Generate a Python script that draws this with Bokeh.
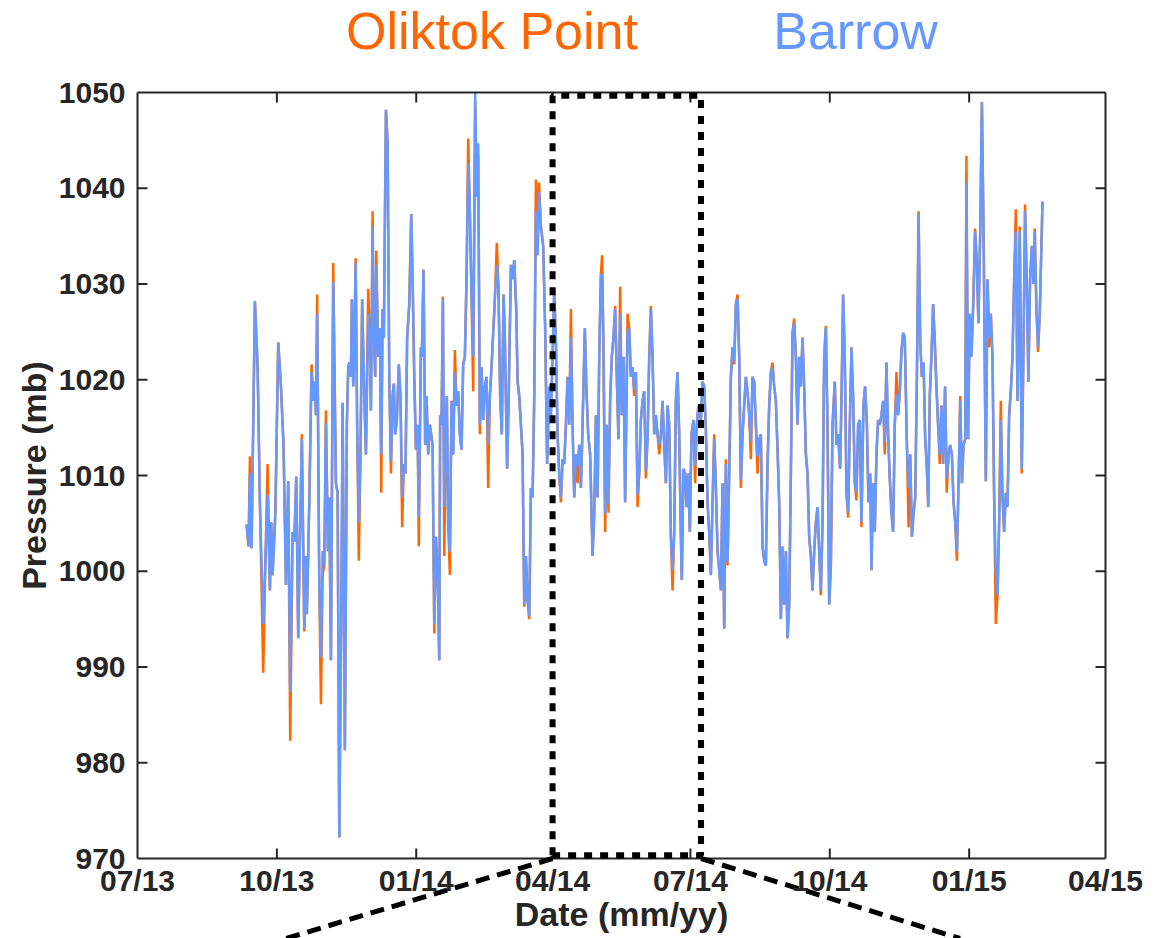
import math
import pandas as pd
from bokeh.plotting import figure
from bokeh.models import ColumnDataSource, Range1d
from bokeh.core.properties import value
from bokeh.embed import file_html
from bokeh.resources import INLINE

# Surface pressure at the two North Slope sites, days counted from 2013-07-01
START = pd.Timestamp("2013-07-01")

day = [
    72.0, 73.3, 74.2, 75.3, 77.5, 79.3, 80.8, 83.0, 84.3, 85.9, 87.4, 88.3, 89.2, 91.0, 92.9,
    94.7, 96.4, 98.0, 99.5, 100.8, 102.4, 103.5, 104.8, 106.1, 107.4, 108.5, 110.1, 111.2, 111.8,
    113.4, 114.9, 116.0, 117.1, 117.8, 118.6, 120.0, 121.1, 122.2, 123.3, 124.4, 125.7, 126.6,
    127.7, 129.2, 131.0, 132.1, 133.2, 134.7, 135.4, 136.9, 138.2, 139.1, 139.8, 140.9, 141.5,
    142.4, 143.1, 144.0, 145.0, 146.1, 147.2, 148.3, 149.7, 150.8, 152.3, 153.4, 154.1, 155.2,
    155.8, 156.9, 157.6, 158.9, 160.0, 160.9, 161.8, 162.6, 164.0, 165.1, 166.2, 167.3, 168.4,
    169.2, 170.1, 171.2, 172.5, 173.6, 174.7, 175.8, 176.9, 178.0, 179.4, 180.7, 181.6, 182.7,
    183.8, 184.9, 185.7, 187.1, 187.7, 188.8, 189.9, 190.8, 191.9, 193.0,
    194.8, 195.9, 197.0, 198.1, 199.2, 199.8, 200.7, 201.6, 202.5, 203.6, 204.2, 205.1, 206.2,
    207.3, 208.4, 209.5, 210.6, 211.7, 212.8, 213.9, 215.0, 216.1, 217.2, 218.3, 219.2, 220.3,
    221.6, 222.9, 224.0, 224.9, 226.0, 227.1, 228.2, 229.3, 230.4, 231.5, 232.6, 233.7, 234.8,
    235.9, 237.2, 238.3, 239.4, 240.5, 241.6, 242.5, 244.0, 245.1, 246.5, 247.6, 248.7, 250.0,
    250.9, 252.0, 253.1, 254.2, 255.3, 256.4, 257.5, 258.6, 259.7, 260.8, 261.9, 263.0, 264.1,
    265.0, 266.3, 267.8, 269.1, 270.4, 271.8, 272.9, 274.0, 275.1, 276.2, 277.3, 278.4, 279.5,
    280.6, 281.7, 282.8, 283.9, 285.0, 286.1, 287.2, 288.3, 289.4, 290.5, 291.6, 292.7, 293.8,
    295.3, 296.4, 297.5, 298.8, 300.4, 301.5, 302.6, 303.7, 304.8, 305.9, 306.7, 307.6, 308.7,
    309.8, 310.9, 312.0, 313.1, 314.2, 315.3, 316.4, 317.5, 318.6, 319.7, 320.8, 321.9,
    323.5, 324.6, 325.7, 326.8, 327.9, 329.0, 330.1, 331.2, 332.3, 333.4, 334.5, 335.6, 336.7,
    337.8, 338.9, 340.0, 341.1, 342.2, 343.3, 344.4, 345.5, 346.6, 347.7, 348.8, 349.9, 351.0,
    352.1, 353.2, 354.3, 355.4, 356.5, 357.6, 358.7, 359.3, 360.4, 361.5, 362.4, 363.5, 364.6,
    365.7, 367.0, 368.1, 369.2, 370.3, 371.9, 373.0, 374.1, 375.2, 376.3, 377.4, 378.5, 379.6,
    380.7, 381.8, 382.9, 384.0, 385.1, 386.2, 387.3, 388.4, 389.5, 390.6, 391.7, 392.8, 393.9,
    395.0, 396.1, 397.2, 398.3, 399.4, 400.5, 401.6, 402.7, 403.8, 404.9, 406.0, 407.1, 408.2,
    409.3, 410.4, 411.5, 412.6, 413.7, 414.8, 415.9, 417.0, 418.1, 419.2, 420.3, 421.4, 422.5,
    423.6, 424.7, 425.8, 426.9, 428.0, 429.1, 430.2, 431.3, 432.4, 433.5, 434.6, 435.7, 436.8,
    437.9, 439.0, 440.1, 441.2, 442.3, 443.4, 444.5, 445.6, 446.7, 447.8, 448.9, 450.0,
    451.1, 452.2, 453.3, 454.4, 455.5, 456.6, 457.7, 458.8, 460.3, 461.4, 462.5, 463.8, 464.7,
    465.8, 466.9, 468.0, 469.1, 470.2, 471.3, 472.4, 473.5, 474.6, 475.7, 476.8, 477.9, 479.2,
    480.3, 481.5, 482.5, 483.7, 484.5, 485.6, 486.7, 487.8, 488.9, 490.0, 491.1, 492.2, 493.3,
    494.4, 495.5, 496.6, 497.7, 498.8, 499.9, 501.0, 502.1, 503.2, 504.3, 505.4, 506.5, 507.9,
    509.0, 510.1, 511.2, 512.3, 513.4, 514.5, 515.6, 516.7, 517.8, 518.9, 520.0, 521.1, 522.0,
    523.0, 524.1, 525.2, 526.3, 527.4, 528.5, 529.6, 530.7, 531.8, 533.1, 534.2, 535.4, 536.4,
    537.6, 538.7, 539.8, 540.9, 542.0, 543.1, 544.2, 545.3, 546.4, 547.2, 548.3, 549.4, 550.5,
    551.8, 552.9, 554.0, 555.1, 556.3, 557.4, 558.5, 560.0, 561.1, 562.2, 563.3, 564.4, 565.5,
    566.6, 567.7, 568.8, 569.9, 571.0, 572.1, 573.2, 574.3, 575.4, 576.5, 577.6, 578.7, 579.8,
    580.9, 582.4, 583.7, 584.8, 585.9, 587.0, 588.1, 589.2, 590.4, 591.4, 592.3, 593.4, 594.5,
    595.6, 596.7, 597.4,
]

barrow = [
    1004.9, 1002.6, 1010.2, 1002.4, 1028.2, 1021.3, 1007.2, 994.5, 1000.1, 1008.0, 998.0, 1005.1, 999.6, 1006.1, 1023.9,
    1019.3, 1013.2, 998.6, 1009.4, 987.4, 1004.1, 1003.1, 1009.9, 993.0, 1005.1, 1013.8, 994.0, 1001.6, 995.5,
    1007.2, 1020.8, 1017.8, 1019.8, 1016.3, 1026.9, 998.6, 991.0, 1002.1, 1000.6, 1015.5, 1002.1, 1007.7,
    990.7, 1030.2, 1009.2, 1008.2, 972.2, 999.1, 1017.6, 981.3, 1015.3, 1021.3, 1021.8, 1020.3, 1028.4,
    1019.3, 1022.0, 1032.2, 1015.3, 1005.1, 1012.2, 1028.4, 1018.3, 1012.2, 1026.9, 1023.9, 1016.8, 1036.0,
    1026.4, 1020.3, 1032.0, 1022.4, 1025.4, 1012.2, 1027.4, 1024.4, 1048.2, 1044.7, 1020.3, 1011.5, 1018.3,
    1019.6, 1014.3, 1015.8, 1021.6, 1018.3, 1007.7, 1011.2, 1010.2, 1024.4, 1027.9, 1037.3, 1030.5, 1020.3,
    1012.7, 1015.3, 1005.6, 1023.4, 1022.4, 1031.5, 1013.2, 1018.3, 1012.2, 1015.3,
    1013.2, 994.5, 1003.6, 1000.1, 990.7, 1016.3, 1015.3, 1028.4, 1006.7, 1015.3, 1018.3, 1005.1, 1002.0,
    1017.8, 1012.2, 1020.8, 1017.3, 1018.8, 1014.3, 1012.7, 1021.6, 1022.4, 1030.5, 1042.6, 1039.1, 1030.5,
    1022.4, 1050.0, 1039.1, 1044.7, 1015.3, 1021.3, 1015.8, 1019.3, 1020.3, 1013.2, 1018.3, 1021.3, 1024.9,
    1028.4, 1032.0, 1029.5, 1018.3, 1014.3, 1028.9, 1024.4, 1010.7, 1018.8, 1032.0, 1030.5, 1032.5, 1027.4,
    1019.8, 1018.3, 1015.3, 1012.2, 996.5, 1001.6, 997.0, 995.3, 1008.7, 1007.7, 1018.3, 1037.6, 1033.0,
    1039.6, 1036.0, 1034.0, 1025.4, 1011.2, 1019.3, 1016.3, 1022.4, 1029.5, 1023.9, 1014.3, 1010.2, 1007.7,
    1011.7, 1011.2, 1015.3, 1020.3, 1015.3, 1024.4, 1015.3, 1007.7, 1012.2, 1011.0, 1013.2, 1008.7, 1015.3,
    1025.4, 1018.8, 1014.3, 1012.2, 1001.6, 1006.1, 1016.3, 1007.7, 1022.4, 1031.0, 1031.0, 1023.4, 1006.0,
    1015.3, 1007.0, 1017.8, 1022.4, 1024.4, 1027.4, 1020.3, 1013.8, 1026.9, 1016.3, 1022.4, 1007.2,
    1024.9, 1025.4, 1020.3, 1021.3, 1019.0, 1020.8, 1008.0, 1010.2, 1015.8, 1017.8, 1018.8, 1010.5, 1013.8,
    1022.4, 1027.4, 1022.4, 1014.3, 1016.3, 1014.3, 1013.2, 1014.3, 1017.8, 1013.2, 1009.2, 1017.3, 1015.3,
    1003.6, 1000.1, 1004.1, 1017.8, 1020.8, 1014.3, 1003.6, 999.1, 1010.7, 1010.2, 1006.7, 1010.2, 1004.1,
    1014.3, 1015.8, 1011.0, 1015.3, 1017.3, 1015.8, 1019.8, 1019.3, 1014.8, 1007.2, 1004.1, 999.6, 1007.2,
    1013.8, 1008.7, 1002.1, 1000.1, 998.0, 1009.2, 994.0, 1011.2, 1001.0, 1010.2, 1020.3, 1023.4, 1022.0,
    1027.9, 1028.4, 1022.4, 1009.5, 1014.3, 1017.3, 1020.3, 1018.8, 1016.3, 1013.5, 1020.3, 1019.8, 1015.3,
    1012.0, 1013.8, 1014.3, 1002.6, 1001.1, 1000.6, 1011.2, 1017.3, 1020.8, 1021.3, 1019.3, 1017.8, 1012.7,
    1007.2, 995.0, 1002.6, 996.5, 1002.1, 993.0, 996.5, 1010.2, 1024.9, 1025.9, 1022.4, 1015.3, 1022.4,
    1019.3, 1024.4, 1019.3, 1012.2, 1010.2, 1003.6, 1001.6, 998.0, 1002.1, 1005.1, 1006.7, 1002.1,
    998.0, 1005.1, 1022.4, 1025.4, 1015.3, 996.5, 1000.6, 1015.3, 1019.8, 1013.2, 1014.3, 1010.7, 1017.8,
    1028.9, 1022.4, 1008.2, 1006.1, 1015.3, 1023.4, 1018.3, 1009.2, 1008.2, 1015.3, 1015.8, 1005.1, 1017.3,
    1019.3, 1015.3, 1007.2, 1010.2, 1000.1, 1009.2, 1004.1, 1012.2, 1015.8, 1015.3, 1016.3, 1017.8, 1013.5,
    1021.8, 1014.3, 1009.7, 1006.1, 1004.1, 1015.3, 1018.5, 1016.3, 1018.8, 1022.9, 1024.9, 1024.4, 1013.2,
    1008.7, 1012.2, 1003.6, 1006.1, 1007.7, 1020.3, 1037.3, 1023.9, 1020.3, 1021.8, 1013.8, 1010.7, 1006.7,
    1018.3, 1022.4, 1027.9, 1023.4, 1019.3, 1015.3, 1012.2, 1017.3, 1011.2, 1019.3, 1009.7, 1012.2, 1013.2,
    1012.2, 1007.2, 1005.1, 1002.1, 1009.2, 1017.8, 1009.2, 1013.2, 1013.8, 1040.6, 1013.8, 1026.9, 1022.4,
    1028.4, 1035.5, 1032.5, 1025.9, 1035.5, 1049.0, 1035.5, 1009.4, 1030.5, 1024.4, 1026.9, 1022.4, 1007.7,
    1000.1, 997.5, 1005.1, 1015.8, 1007.7, 1004.1, 1008.2, 1006.7, 1016.3, 1018.8, 1022.4, 1030.5, 1035.5,
    1017.8, 1035.5, 1010.7, 1022.4, 1037.6, 1030.5, 1019.8, 1030.5, 1034.0, 1030.0, 1035.5, 1027.4, 1023.4,
    1026.9, 1034.0, 1038.6,
]

oliktok = [
    1004.9, 1002.6, 1012.0, 1002.4, 1028.2, 1021.3, 1007.2, 989.4, 1000.1, 1011.2, 998.0, 1005.1, 999.6, 1006.1, 1023.9,
    1019.3, 1013.2, 998.6, 1009.4, 982.3, 1004.1, 1003.1, 1009.9, 993.0, 1005.1, 1014.3, 993.7, 1001.6, 995.5,
    1007.2, 1021.6, 1017.8, 1019.8, 1016.3, 1028.9, 998.6, 986.1, 999.6, 1000.6, 1016.8, 1002.1, 1007.7,
    990.7, 1032.2, 1009.2, 1008.2, 972.2, 999.1, 1017.6, 981.3, 1015.3, 1021.3, 1021.8, 1020.3, 1028.4,
    1019.3, 1023.4, 1032.7, 1015.3, 1001.1, 1012.2, 1028.4, 1018.3, 1012.2, 1029.5, 1023.9, 1016.8, 1037.6,
    1026.4, 1020.3, 1033.5, 1022.4, 1025.4, 1008.2, 1027.4, 1024.4, 1048.2, 1044.7, 1020.3, 1010.2, 1018.3,
    1019.6, 1014.3, 1015.8, 1021.6, 1018.3, 1004.6, 1011.2, 1010.2, 1024.4, 1027.9, 1037.3, 1030.5, 1020.3,
    1012.7, 1015.3, 1002.6, 1023.4, 1022.4, 1031.5, 1013.2, 1018.3, 1012.2, 1015.3,
    1013.2, 993.5, 1003.6, 1000.1, 990.7, 1016.3, 1015.3, 1028.7, 1001.6, 1015.3, 1018.3, 1005.1, 999.6,
    1017.8, 1012.2, 1023.1, 1017.3, 1018.8, 1014.3, 1012.7, 1021.6, 1022.4, 1030.5, 1045.2, 1039.1, 1030.5,
    1018.8, 1049.0, 1039.1, 1043.5, 1014.3, 1021.3, 1015.8, 1019.3, 1020.3, 1008.7, 1018.3, 1021.3, 1024.9,
    1028.4, 1034.3, 1029.5, 1018.3, 1014.3, 1028.9, 1024.4, 1010.7, 1018.8, 1032.0, 1030.5, 1032.5, 1027.4,
    1019.8, 1018.3, 1015.3, 1012.2, 996.3, 1001.6, 997.0, 995.0, 1008.7, 1007.7, 1018.3, 1040.9, 1033.0,
    1040.6, 1036.0, 1034.0, 1025.4, 1011.2, 1019.3, 1016.3, 1022.4, 1029.5, 1023.9, 1014.3, 1010.2, 1007.2,
    1011.7, 1011.2, 1015.3, 1020.3, 1015.3, 1027.4, 1015.3, 1007.7, 1012.2, 1009.2, 1013.2, 1008.7, 1015.3,
    1025.4, 1018.8, 1014.3, 1012.2, 1001.6, 1006.1, 1016.3, 1007.7, 1022.4, 1031.0, 1033.0, 1023.4, 1004.1,
    1015.3, 1006.1, 1017.8, 1022.4, 1024.4, 1027.7, 1020.3, 1013.8, 1029.7, 1016.3, 1022.4, 1007.2,
    1026.9, 1025.4, 1020.3, 1021.3, 1018.3, 1020.8, 1006.7, 1010.2, 1015.8, 1017.8, 1018.8, 1009.7, 1013.8,
    1022.4, 1027.7, 1022.4, 1014.3, 1016.3, 1014.3, 1012.2, 1014.3, 1017.8, 1013.2, 1009.2, 1017.3, 1015.3,
    1003.6, 998.0, 1004.1, 1017.8, 1020.8, 1014.3, 1003.6, 999.1, 1010.7, 1010.2, 1006.7, 1010.2, 1004.1,
    1014.3, 1015.8, 1009.2, 1015.3, 1017.3, 1015.8, 1019.8, 1019.3, 1014.8, 1007.2, 1004.1, 999.6, 1007.2,
    1014.3, 1008.7, 1002.1, 1000.1, 998.0, 1009.2, 994.0, 1011.7, 1000.6, 1010.2, 1020.3, 1023.4, 1021.6,
    1027.9, 1028.9, 1022.4, 1008.7, 1014.3, 1017.3, 1020.3, 1018.8, 1016.3, 1011.7, 1020.3, 1019.8, 1015.3,
    1010.2, 1013.8, 1014.3, 1002.6, 1001.1, 1000.6, 1011.2, 1017.3, 1020.8, 1021.8, 1019.3, 1017.8, 1012.7,
    1007.2, 995.0, 1002.1, 996.5, 1002.1, 993.0, 996.5, 1010.2, 1024.9, 1026.4, 1022.4, 1015.3, 1022.4,
    1019.3, 1024.4, 1019.3, 1012.2, 1010.2, 1003.6, 1001.6, 998.0, 1002.1, 1005.1, 1006.7, 1002.1,
    997.5, 1005.1, 1022.4, 1025.6, 1015.3, 996.5, 1000.6, 1015.3, 1019.8, 1013.2, 1014.3, 1010.7, 1017.8,
    1028.9, 1022.4, 1008.2, 1005.6, 1015.3, 1023.4, 1018.3, 1009.2, 1007.4, 1015.3, 1015.8, 1004.6, 1017.3,
    1019.3, 1015.3, 1007.2, 1010.2, 1000.1, 1009.2, 1004.1, 1012.2, 1015.8, 1015.3, 1016.3, 1017.8, 1012.2,
    1021.8, 1014.3, 1009.7, 1006.1, 1004.1, 1015.3, 1020.8, 1016.3, 1018.8, 1022.9, 1024.9, 1024.4, 1013.2,
    1004.6, 1012.2, 1003.6, 1006.1, 1007.7, 1020.3, 1037.6, 1023.9, 1020.3, 1021.8, 1013.8, 1010.7, 1006.7,
    1018.3, 1022.4, 1027.9, 1024.4, 1019.3, 1015.3, 1011.2, 1017.3, 1011.2, 1019.3, 1008.2, 1012.2, 1013.2,
    1012.2, 1007.2, 1005.1, 1001.1, 1009.2, 1018.3, 1009.2, 1013.2, 1013.8, 1043.4, 1013.8, 1026.9, 1022.4,
    1028.4, 1035.8, 1032.5, 1025.9, 1035.5, 1049.0, 1035.5, 1009.4, 1030.5, 1023.4, 1026.9, 1022.4, 1007.7,
    994.5, 997.5, 1005.1, 1017.8, 1007.7, 1004.1, 1008.2, 1006.7, 1016.3, 1018.8, 1022.4, 1030.5, 1037.8,
    1017.8, 1036.0, 1010.2, 1022.4, 1038.3, 1030.5, 1019.8, 1030.5, 1034.0, 1030.0, 1035.8, 1027.4, 1022.9,
    1026.9, 1034.0, 1038.6,
]

tick_dates = ["2013-07-01", "2013-10-01", "2014-01-01", "2014-04-01",
              "2014-07-01", "2014-10-01", "2015-01-01", "2015-04-01"]
y_ticks = [970, 980, 990, 1000, 1010, 1020, 1030, 1040, 1050]

# window enlarged in the panel below
zoom_start, zoom_end = "2014-04-01", "2014-07-08"
callout_left, callout_right = "2013-10-07", "2014-12-26"

ORANGE = "#FF6600"
BLUE = "#6699FF"
INK = "#262626"
FONT = "Liberation Sans"

# canvas and the boxed axes inside it (pixels); the plotting frame fills the whole
# canvas so that the callout lines and all labels can be drawn around the box
W, H = 1175, 938
BOX_L, BOX_R, BOX_T, BOX_B = 137, 1105, 92, 858


def ms(ts):
    return pd.Timestamp(ts).value / 1e6


y_lo, y_hi = y_ticks[0], y_ticks[-1]
x_lo, x_hi = ms(tick_dates[0]), ms(tick_dates[-1])
dx = (x_hi - x_lo) / (BOX_R - BOX_L)
dy = (y_hi - y_lo) / (BOX_B - BOX_T)
x_range = Range1d(x_lo - BOX_L * dx, x_hi + (W - BOX_R) * dx)
y_range = Range1d(y_lo - (H - BOX_B) * dy, y_hi + BOX_T * dy)

dates = START + pd.to_timedelta(day, unit="D")
src = ColumnDataSource(dict(date=dates, barrow=barrow, oliktok=oliktok))

p = figure(width=W, height=H, x_axis_location=None, y_axis_location=None,
           x_range=x_range, y_range=y_range,
           output_backend="svg", toolbar_location=None,
           min_border=0, min_border_left=0, min_border_right=0,
           min_border_top=0, min_border_bottom=0)
p.background_fill_color = "white"
p.border_fill_color = "white"
p.outline_line_color = None
p.grid.visible = False

p.line("date", "oliktok", source=src, line_color=ORANGE, line_width=2.5)
p.line("date", "barrow", source=src, line_color=BLUE, line_width=2.5)

# axes box
p.segment(x0=[x_lo, x_lo, x_lo, x_hi], y0=[y_lo, y_hi, y_lo, y_lo],
          x1=[x_hi, x_hi, x_lo, x_hi], y1=[y_lo, y_hi, y_hi, y_hi],
          line_color=INK, line_width=2)

# inward ticks on all four sides
xt = [ms(t) for t in tick_dates]
inner_x = xt[1:-1]
inner_y = y_ticks[1:-1]
tick = dict(length=10, length_units="screen", line_color=INK, line_width=2)
p.ray(x=inner_x, y=[y_lo] * len(inner_x), angle=math.pi / 2, **tick)
p.ray(x=inner_x, y=[y_hi] * len(inner_x), angle=-math.pi / 2, **tick)
p.ray(x=[x_lo] * len(inner_y), y=inner_y, angle=0, **tick)
p.ray(x=[x_hi] * len(inner_y), y=inner_y, angle=math.pi, **tick)

# dotted frame around the enlarged window
zs, ze = ms(zoom_start), ms(zoom_end)
lo, hi = y_lo + 0.35, y_hi - 0.35
p.line([zs, zs, ze, ze, zs], [lo, hi, hi, lo, lo], line_color="black",
       line_width=6, line_dash="8 8")

# dashed callout lines toward the lower panel
p.line([zs, ms(callout_left)], [y_lo, y_range.start], line_color="black", line_width=5,
       line_dash="14 8")
p.line([ze, ms(callout_right)], [y_lo, y_range.start], line_color="black", line_width=5,
       line_dash="14 8")

bold = dict(text_font=value(FONT), text_font_style=value("bold"), text_color=INK,
            text_baseline=value("middle"))

# tick labels
p.text(x=[x_lo] * len(y_ticks), y=y_ticks, text=[str(v) for v in y_ticks],
       x_offset=-12, text_align=value("right"), text_font_size=value("30px"), **bold)
p.text(x=xt, y=[y_lo] * len(xt), text=[pd.Timestamp(t).strftime("%m/%y") for t in tick_dates],
       y_offset=22, text_align=value("center"), text_font_size=value("30px"), **bold)

# axis titles
p.text(x=[(x_lo + x_hi) / 2], y=[y_lo], text=["Date (mm/yy)"], y_offset=55,
       text_align=value("center"), text_font_size=value("34px"), **bold)
p.text(x=[x_lo], y=[(y_lo + y_hi) / 2], text=["Pressure (mb)"], x_offset=-104,
       angle=math.pi / 2, text_align=value("center"), text_font_size=value("34px"), **bold)

# station names as a coloured key above the box
p.text(x=[ms("2014-02-20"), ms("2014-10-18")], y=[y_hi, y_hi],
       text=["Oliktok Point", "Barrow"], y_offset=-62,
       text_align=value("center"), text_baseline=value("middle"),
       text_font=value(FONT), text_font_size=value("52px"), text_color=[ORANGE, BLUE])

open("out.html", "w").write(file_html(p, INLINE))
